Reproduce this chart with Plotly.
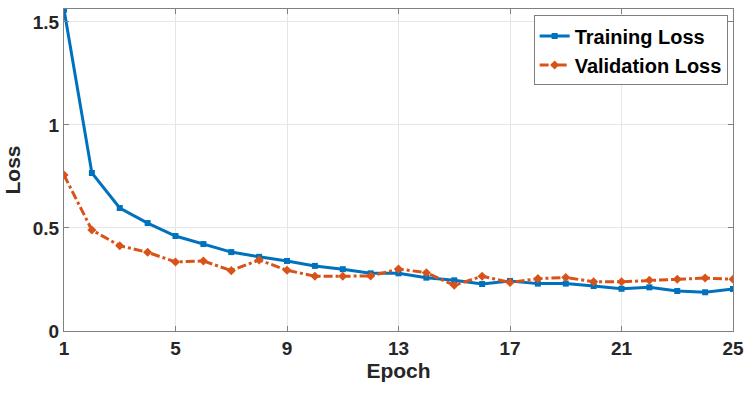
import plotly.graph_objects as go

epochs = list(range(1, 26))
train_loss = [1.56, 0.767, 0.597, 0.524, 0.461, 0.422, 0.383, 0.36, 0.34, 0.316, 0.30, 0.28,
              0.28, 0.259, 0.246, 0.228, 0.243, 0.23, 0.23, 0.218, 0.205, 0.212, 0.194, 0.188, 0.204]
val_loss = [0.757, 0.49, 0.414, 0.382, 0.335, 0.34, 0.293, 0.345, 0.295, 0.266, 0.266, 0.267,
            0.301, 0.283, 0.222, 0.266, 0.236, 0.254, 0.26, 0.239, 0.239, 0.246, 0.251, 0.257, 0.251]
x_ticks = [1, 5, 9, 13, 17, 21, 25]
y_ticks = [0, 0.5, 1, 1.5]

fig = go.Figure()
fig.add_trace(go.Scatter(x=epochs, y=train_loss, mode="lines+markers", name="Training Loss",
                         line=dict(color="#0072BD", width=3),
                         marker=dict(symbol="square", size=6, color="#0072BD")))
fig.add_trace(go.Scatter(x=epochs, y=val_loss, mode="lines+markers", name="Validation Loss",
                         line=dict(color="#D95319", width=3, dash="dashdot"),
                         marker=dict(symbol="diamond", size=7, color="#D95319")))

font = "Liberation Sans, Arial, sans-serif"
fig.update_layout(
    width=754, height=394,
    margin=dict(l=64, r=21, t=9, b=63),
    paper_bgcolor="white", plot_bgcolor="white",
    font=dict(family=font, color="#262626"),
    showlegend=True,
    legend=dict(x=0.992, y=0.98, xanchor="right", yanchor="top",
                bgcolor="white", bordercolor="#7f7f7f", borderwidth=1,
                font=dict(size=20, color="black", family=font, weight="bold"),
                tracegroupgap=0, itemwidth=30),
)
fig.update_xaxes(range=[1, 25], tickvals=x_ticks, showgrid=True, gridcolor="#e6e6e6",
                 showline=True, linecolor="#808080", linewidth=1, mirror="ticks",
                 ticks="inside", ticklen=5, tickcolor="#808080", zeroline=False,
                 tickfont=dict(size=19, family=font, weight="bold", color="#262626"),
                 title=dict(text="<b>Epoch</b>", font=dict(size=21, family=font, color="#262626"), standoff=4))
fig.update_yaxes(range=[0, 1.563], tickvals=y_ticks, ticktext=["0", "0.5", "1", "1.5"],
                 showgrid=True, gridcolor="#e6e6e6",
                 showline=True, linecolor="#808080", linewidth=1, mirror="ticks",
                 ticks="inside", ticklen=5, tickcolor="#808080", zeroline=False,
                 tickfont=dict(size=19, family=font, weight="bold", color="#262626"),
                 title=dict(text="<b>Loss</b>", font=dict(size=21, family=font, color="#262626"), standoff=6))

fig.write_html("out.html")
